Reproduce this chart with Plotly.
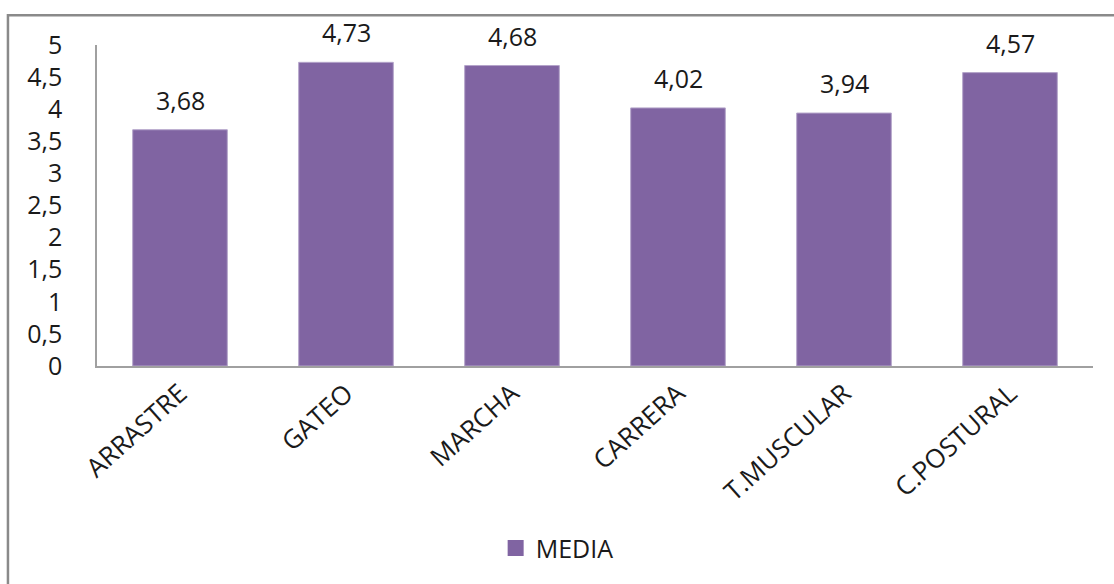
import plotly.graph_objects as go

categories = ["ARRASTRE", "GATEO", "MARCHA", "CARRERA", "T.MUSCULAR", "C.POSTURAL"]
media = [3.68, 4.73, 4.68, 4.02, 3.94, 4.57]
series_name = "MEDIA"

FONT = "Open Sans"
TXT = "#1a1a1a"
BAR = "#8064A2"

fig = go.Figure()
fig.add_trace(go.Bar(
    x=categories, y=media, name=series_name,
    marker=dict(color=BAR, line=dict(color="#B4A4CA", width=1)),
    showlegend=False,
))
# legend entry with a larger square swatch
fig.add_trace(go.Scatter(
    x=[None], y=[None], mode="markers", name=series_name,
    marker=dict(symbol="square", size=18, color=BAR),
    showlegend=True,
))

for c, v in zip(categories, media):
    fig.add_annotation(
        x=c, y=v, text=f"{v:.2f}".replace(".", ","),
        showarrow=False, yanchor="bottom", yshift=11,
        font=dict(family=FONT, size=25, color=TXT),
    )

# outer chart frame
fig.add_shape(type="rect", xref="paper", yref="paper",
              x0=-0.0894, x1=1.2, y0=-0.9, y1=1.0926,
              line=dict(color="#8a8a8a", width=2.5), fillcolor="rgba(0,0,0,0)", layer="below")

fig.update_layout(
    width=1114, height=584,
    margin=dict(l=97, r=21, t=45, b=215),
    paper_bgcolor="white", plot_bgcolor="white",
    separators=",.",
    bargap=0.43,
    font=dict(family=FONT, size=25, color=TXT),
    showlegend=True,
    legend=dict(orientation="h", x=0.462, y=-0.568, xanchor="center", yanchor="middle",
                font=dict(family=FONT, size=25, color=TXT), bgcolor="rgba(0,0,0,0)",
                itemwidth=30),
)
fig.update_yaxes(range=[0, 5], dtick=0.5, showgrid=False, zeroline=False,
                 showline=True, linecolor="#a0a0a0", linewidth=1.5,
                 ticks="", ticklabelstandoff=28,
                 tickfont=dict(family=FONT, size=25, color=TXT))
fig.update_xaxes(showgrid=False, showline=True, linecolor="#a0a0a0", linewidth=2,
                 ticks="", tickangle=-42,
                 tickfont=dict(family=FONT, size=26, color=TXT))

fig.write_html("out.html")
